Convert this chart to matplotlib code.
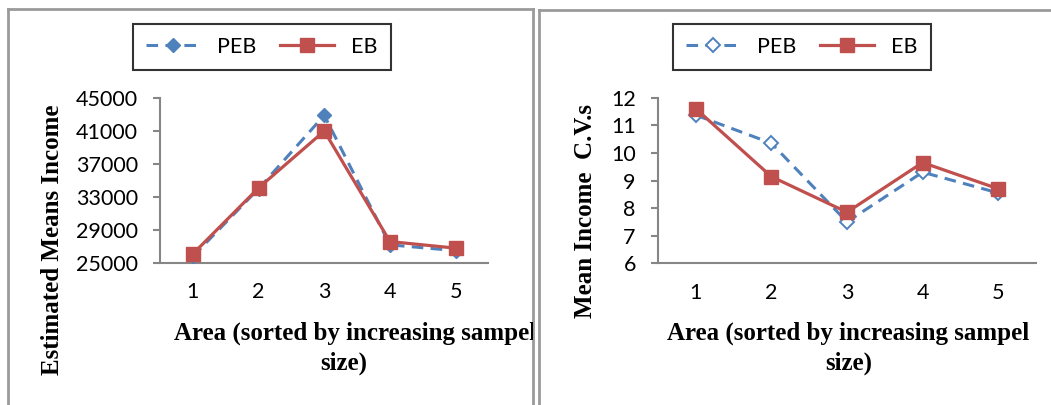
import matplotlib
matplotlib.use("Agg")
import matplotlib.pyplot as plt
from matplotlib.lines import Line2D

# ---- data ----
areas = [1, 2, 3, 4, 5]
mean_peb = [25800, 34000, 42900, 27200, 26500]
mean_eb = [26100, 34100, 41000, 27600, 26800]
cv_peb = [11.37, 10.35, 7.5, 9.3, 8.55]
cv_eb = [11.6, 9.14, 7.85, 9.65, 8.7]
mean_ticks = [25000, 29000, 33000, 37000, 41000, 45000]
cv_ticks = [6, 7, 8, 9, 10, 11, 12]
series_names = ["PEB", "EB"]
xlabel_line1 = "Area (sorted by increasing sampel"
xlabel_line2 = "size)"
ylabel_left = "Estimated Means Income"
ylabel_right = "Mean Income  C.V.s"

W, H = 1051, 405
fig = plt.figure(figsize=(W / 100, H / 100), dpi=100)

BLUE = "#4F81BD"
RED = "#C0504D"
GRAY = "#868686"
TICKFONT = "Lato"
SERIF = "Liberation Serif"
LBLSIZE = 18


def fx(px):
    return px / W


def fy(py):
    return 1 - py / H


def panel(x0, y0, x1, y1):
    ax = fig.add_axes([fx(x0), fy(y1), fx(x1 - x0), fy(y0) - fy(y1)])
    ax.set_xlim(x0, x1)
    ax.set_ylim(y1, y0)
    ax.set_xticks([])
    ax.set_yticks([])
    for s in ax.spines.values():
        s.set_color("#9a9a9a")
        s.set_linewidth(2.0)
    ax.patch.set_alpha(0)
    return ax


def plot_panel(pbox, abox, peb, eb, yticks, hollow, legend_center):
    pax = panel(*pbox)
    x0, y0, x1, y1 = abox
    ax = fig.add_axes([fx(x0), fy(y1), fx(x1 - x0), fy(y0) - fy(y1)])
    ax.plot(areas, peb, color=BLUE, lw=2.2, ls=(0, (3.8, 2.4)), marker="D",
            ms=7.5, mfc="white" if hollow else BLUE, mec=BLUE, mew=1.4 if hollow else 1,
            clip_on=False, zorder=3)
    ax.plot(areas, eb, color=RED, lw=2.3, marker="s", ms=10, mfc=RED, mec=RED,
            clip_on=False, zorder=4)
    ax.set_xlim(0.5, 5.5)
    ax.set_ylim(yticks[0], yticks[-1])
    ax.set_yticks(yticks)
    ax.set_xticks(areas)
    ax.set_yticklabels([str(t) for t in yticks], fontfamily=TICKFONT, fontsize=15.5)
    ax.set_xticklabels([str(a) for a in areas], fontfamily=TICKFONT, fontsize=15.5)
    for s in ["top", "right"]:
        ax.spines[s].set_visible(False)
    for s in ["left", "bottom"]:
        ax.spines[s].set_color(GRAY)
        ax.spines[s].set_linewidth(1.5)
    ax.tick_params(axis="y", direction="out", length=5, width=1.5, color=GRAY, pad=11)
    ax.tick_params(axis="x", length=0, pad=14)
    ax.patch.set_alpha(0)

    handles = [
        Line2D([], [], color=BLUE, lw=2.2, ls=(0, (3.8, 2.4)), marker="D", ms=7.5,
               mfc="white" if hollow else BLUE, mec=BLUE, mew=1.4 if hollow else 1),
        Line2D([], [], color=RED, lw=2.3, marker="s", ms=10, mfc=RED, mec=RED),
    ]
    leg = fig.legend(handles, series_names, loc="center",
                     bbox_to_anchor=(fx(legend_center[0]), fy(legend_center[1])),
                     ncol=2, frameon=True, fancybox=False, handlelength=2.5,
                     handletextpad=0.8, columnspacing=1.1, borderpad=0.6,
                     prop={"family": TICKFONT, "size": 15.5})
    leg.get_frame().set_edgecolor("black")
    leg.get_frame().set_linewidth(1.5)
    return pax, ax


# left panel
pax1, ax1 = plot_panel((8, 9, 533, 420), (160, 98, 488.5, 263), mean_peb, mean_eb,
                       mean_ticks, False, (262, 47))
# right panel
pax2, ax2 = plot_panel((539, 10, 1065, 420), (658, 97.7, 1036, 263.3), cv_peb, cv_eb,
                       cv_ticks, True, (802, 47))

# y labels
fig.text(fx(53), fy(240), ylabel_left, rotation=90, ha="center", va="center",
         fontfamily=SERIF, fontweight="bold", fontsize=LBLSIZE)
fig.text(fx(586), fy(211), ylabel_right, rotation=90, ha="center", va="center",
         fontfamily=SERIF, fontweight="bold", fontsize=LBLSIZE)

# x labels (left one clipped by its panel border)
for pax, c1, c2 in [(pax1, 355, 344), (pax2, 848.5, 848.5)]:
    pax.text(c1, 333, xlabel_line1, ha="center", va="center",
             fontfamily=SERIF, fontweight="bold", fontsize=LBLSIZE, clip_on=True)
    pax.text(c2, 363, xlabel_line2, ha="center", va="center",
             fontfamily=SERIF, fontweight="bold", fontsize=LBLSIZE, clip_on=True)

fig.savefig("out.png", dpi=100)
